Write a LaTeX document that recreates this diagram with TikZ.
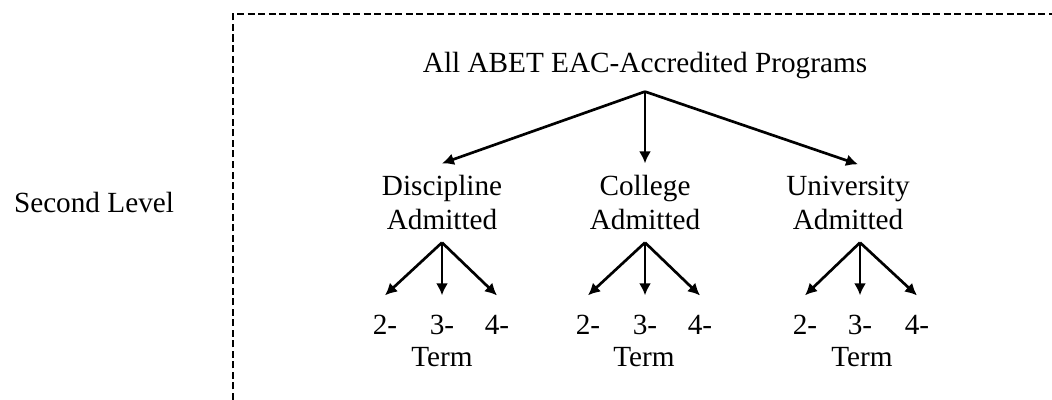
\documentclass[tikz,border=0pt]{standalone}
\usepackage{fontspec}
\setmainfont{Liberation Serif}
\usepackage{tikz}
\usetikzlibrary{arrows.meta}

\begin{document}
\begin{tikzpicture}
        \tikzstyle{txt} = [font=\fontsize{20.8}{24.2}\selectfont, inner sep=0.3cm, anchor=base]
        \tikzstyle{group} = [txt, align=center]
        \tikzstyle{digit} = [txt, inner xsep=1pt, inner ysep=0.5cm]
        \tikzstyle{line} = [draw, -{Latex[length=8.5pt, width=8.5pt]}, line width=1.9pt]
        \tikzstyle{frame} = [draw, line width=1.1pt, dash pattern=on 5pt off 2.5pt]

        \useasboundingbox (0,0) rectangle (26.3,10);
        \path [frame] (5.825,0) -- (5.825,9.65) -- (26.3,9.65);

        \node [txt] (level) at (2.35,4.675) {Second Level};
        \node [txt] (all) at (16.125,8.175) {All ABET EAC-Accredited Programs};

        \node [group] (disc) at (11.05,4.25) {Discipline\\Admitted};
        \node [group] (coll) at (16.125,4.25) {College\\Admitted};
        \node [group] (univ) at (21.2,4.25) {University\\Admitted};

        \path [line] (all.south) -- (disc.north);
        \path [line] (all.south) -- (coll.north);
        \path [line] (all.south) -- ([xshift=0.25cm]univ.north);

        \node [digit] (dtwo) at (9.625,1.625) {2-};
        \node [digit] (dthree) at (11.05,1.625) {3-};
        \node [digit] (dfour) at (12.425,1.625) {4-};
        \node [txt] (dterm) at (11.05,0.825) {Term};

        \node [digit] (ctwo) at (14.7,1.625) {2-};
        \node [digit] (cthree) at (16.125,1.625) {3-};
        \node [digit] (cfour) at (17.5,1.625) {4-};
        \node [txt] (cterm) at (16.1,0.825) {Term};

        \node [digit] (utwo) at (20.125,1.625) {2-};
        \node [digit] (uthree) at (21.5,1.625) {3-};
        \node [digit] (ufour) at (22.925,1.625) {4-};
        \node [txt] (uterm) at (21.55,0.825) {Term};

        \path [line] (disc.south) -- (dtwo.north);
        \path [line] (disc.south) -- (dthree.north);
        \path [line] (disc.south) -- (dfour.north);

        \path [line] (coll.south) -- (ctwo.north);
        \path [line] (coll.south) -- (cthree.north);
        \path [line] (coll.south) -- (cfour.north);

        \path [line] ([xshift=0.3cm]univ.south) -- (utwo.north);
        \path [line] ([xshift=0.3cm]univ.south) -- (uthree.north);
        \path [line] ([xshift=0.3cm]univ.south) -- (ufour.north);
    \end{tikzpicture}
\end{document}
